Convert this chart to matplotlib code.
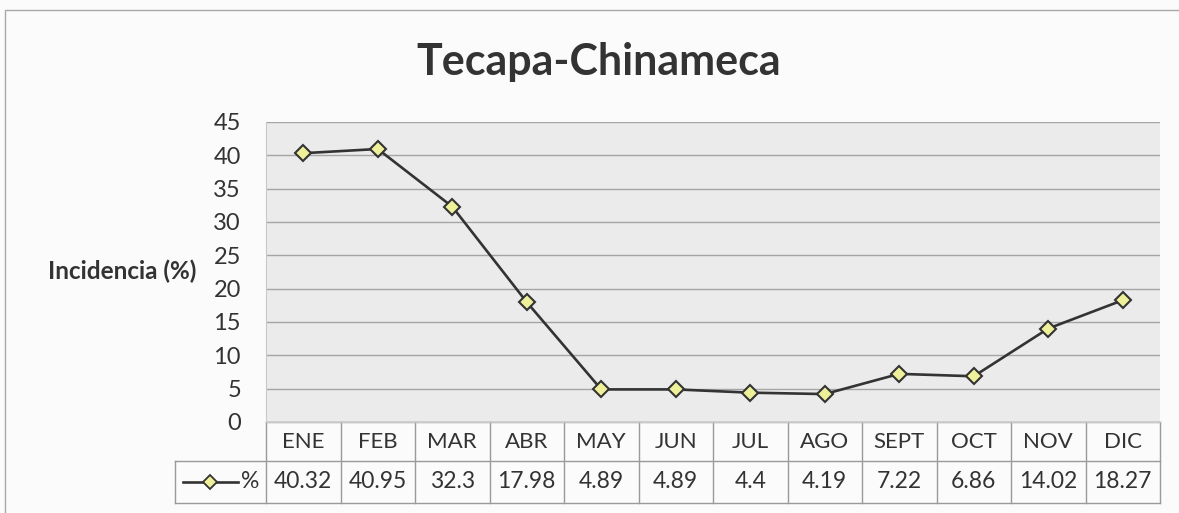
import matplotlib.pyplot as plt
from matplotlib.lines import Line2D
from matplotlib.patches import Rectangle

meses = ['ENE', 'FEB', 'MAR', 'ABR', 'MAY', 'JUN', 'JUL', 'AGO', 'SEPT', 'OCT', 'NOV', 'DIC']
incidencia = [40.32, 40.95, 32.3, 17.98, 4.89, 4.89, 4.4, 4.19, 7.22, 6.86, 14.02, 18.27]
serie = '%'
yticks = list(range(0, 50, 5))

plt.rcParams['font.family'] = ['Lato', 'DejaVu Sans']
texto = '#333333'
borde_tabla = '#9a9a9a'

fig = plt.figure(figsize=(11.79, 5.13), dpi=100)
fig.patch.set_facecolor('#fbfbfb')

# marco exterior del grafico
fig.patches.append(Rectangle((5 / 1179, -0.1), 1.2, 503 / 513 + 0.1,
                             transform=fig.transFigure, fill=False,
                             edgecolor='#a8a8a8', lw=1.0))

ax = fig.add_axes([266 / 1179, (513 - 422) / 513, (1160 - 266) / 1179, 300 / 513])
ax.set_facecolor('#ebebeb')
x = list(range(len(meses)))
ax.plot(x, incidencia, color='#333333', lw=1.9, marker='D', markersize=8,
        markerfacecolor='#eef09a', markeredgecolor='#333333', markeredgewidth=1.5, zorder=3)

ax.set_xlim(-0.5, len(meses) - 0.5)
ax.set_ylim(0, 45)
ax.set_yticks(yticks)
ax.set_xticks([])
ax.grid(axis='y', color='#a5a5a5', lw=1.0)
ax.tick_params(axis='y', length=0, labelsize=17, labelcolor=texto, pad=18)
for s in ax.spines.values():
    s.set_color('#c8c8c8')
ax.spines['top'].set_visible(False)
ax.spines['right'].set_visible(False)

# tabla de datos bajo el eje
trans = ax.get_xaxis_transform()
h1 = 39 / 300
h2 = 42 / 300
ancho_col = 894 / len(meses)
x_leyenda = -0.5 - (266 - 175) / ancho_col
for i, (m, v) in enumerate(zip(meses, incidencia)):
    ax.text(i, -h1 / 2, m, transform=trans, ha='center', va='center',
            fontsize=16, color=texto, clip_on=False)
    ax.text(i, -h1 - h2 / 2, f'{v:g}', transform=trans, ha='center', va='center',
            fontsize=16.5, color=texto, clip_on=False)
for k in range(len(meses) + 1):
    ax.add_line(Line2D([k - 0.5, k - 0.5], [0, -h1 - h2], transform=trans,
                       color=borde_tabla, lw=1.0, clip_on=False))
ax.add_line(Line2D([x_leyenda, x_leyenda], [-h1, -h1 - h2], transform=trans,
                   color=borde_tabla, lw=1.0, clip_on=False))
for yy, x0 in [(0, -0.5), (-h1, x_leyenda), (-h1 - h2, x_leyenda)]:
    ax.add_line(Line2D([x0, len(meses) - 0.5], [yy, yy], transform=trans,
                       color=borde_tabla, lw=1.0, clip_on=False))

# clave de la leyenda dentro de la tabla
y_ley = -h1 - h2 / 2
ax.add_line(Line2D([x_leyenda + 8 / ancho_col, x_leyenda + 63 / ancho_col], [y_ley, y_ley],
                   transform=trans, color='#333333', lw=1.9, clip_on=False))
ax.add_line(Line2D([x_leyenda + 35 / ancho_col], [y_ley], transform=trans, marker='D',
                   markersize=7, markerfacecolor='#eef09a', markeredgecolor='#333333',
                   markeredgewidth=1.3, clip_on=False))
ax.text(x_leyenda + 75 / ancho_col, y_ley, serie, transform=trans, ha='center', va='center',
        fontsize=16.5, color=texto, clip_on=False)

fig.text(599 / 1179, (513 - 75) / 513, 'Tecapa-Chinameca', ha='center', va='baseline',
         fontsize=31, fontweight='bold', color=texto)
fig.text(48 / 1179, (513 - 271) / 513, 'Incidencia (%)', ha='left', va='center',
         fontsize=17.5, fontweight='bold', color=texto)

fig.savefig('out.png', dpi=100, facecolor=fig.get_facecolor())
